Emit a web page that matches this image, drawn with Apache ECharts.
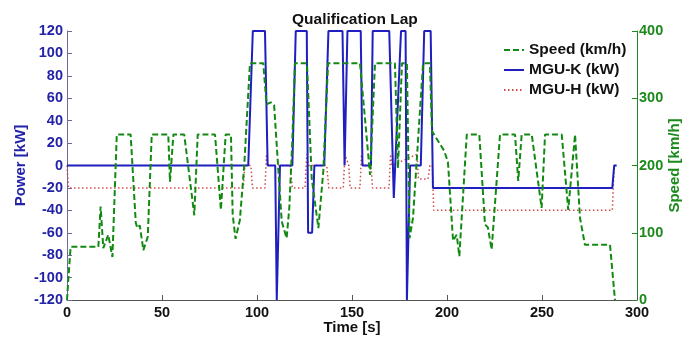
<!DOCTYPE html>
<html>
<head>
<meta charset="utf-8">
<script src="https://cdn.jsdelivr.net/npm/echarts@6/dist/echarts.min.js"></script>
<style>
html,body{margin:0;padding:0;background:#fff;}
#chart{width:693px;height:337px;}
</style>
</head>
<body>
<div id="chart"></div>
<script>
// ---- data ----
const titleText = 'Qualification Lap';
const seriesNames = ['Speed (km/h)', 'MGU-K (kW)', 'MGU-H (kW)'];
const timeTicks = [0, 50, 100, 150, 200, 250, 300];
const powerTicks = [-120, -100, -80, -60, -40, -20, 0, 20, 40, 60, 80, 100, 120];
const speedTicks = [0, 100, 200, 300, 400];

const speedTime = [0, 0.8, 1.9, 16.5, 17.7, 19.1, 21.7, 23.9, 26.2, 33.5, 36.2, 37, 38.3, 40.2, 42.5, 44.6,
  53.3, 54.2, 56, 61.7, 67, 68.8, 77.9, 81, 83.5, 86.3, 87.2, 88.7, 91, 93.3, 96.3, 103.3, 105, 107.2, 109,
  113, 115.6, 117, 118.5, 120, 126.3, 128.8, 132.3, 134.9, 137.4, 154.2, 159.5, 162.1, 172.6, 174.2, 176.3,
  178.9, 180.3, 182.1, 187.4, 191, 192.1, 198.5, 200.5, 203.2, 205.1, 206.5, 210.4, 217, 220, 221.5, 223.5,
  227.9, 235.8, 237.5, 239.3, 244.6, 249.8, 251.6, 260.4, 263.8, 267.4, 270, 272.6, 285.8, 288.4];
const speedKmh = [0, 35, 79, 79, 139, 77, 97, 64, 246, 246, 115, 107, 111, 74, 94, 246,
  246, 176, 246, 246, 126, 246, 246, 134, 246, 246, 127, 91, 119, 201, 352, 352, 291, 294, 290,
  117, 92, 137, 231, 352, 352, 181, 107, 192, 352, 352, 186, 352, 352, 196, 352,
  352, 92, 122, 352, 352, 251, 222, 205, 88, 97, 65, 246, 246, 112, 108, 75,
  246, 246, 177, 246, 246, 137, 246, 246, 134, 246, 122, 82, 82, 0];

const mgukTime = [0, 95.4, 97.8, 104.2, 105.6, 109.6, 110.4, 111.2, 112.1, 118.6, 120.4, 126.2, 126.9, 129, 130.2,
  135.4, 137.6, 145, 146.1, 146.6, 147.6, 154.6, 155.5, 160, 160.9, 169.6, 172, 175.8, 178.2, 178.9, 179.7,
  180.6, 186.2, 188, 191.4, 192.6, 287, 288, 289.3];
const mgukKw = [0, 0, 120, 120, 0, 0, -120, -120, 0, 0, 120, 120, -60, -60, 0,
  0, 120, 120, 0, 0, 120, 120, 0, 0, 120, 120, -29, 120, 120, -120, -120,
  0, 0, 120, 120, -20, -20, 0, 0];

const mguhTime = [0, 0.8, 92.8, 93.6, 96.8, 97.6, 104.2, 105, 105.8, 117.4, 118.6, 125.3, 126.2, 127, 136.7,
  137.8, 145.4, 146.3, 148.3, 149, 154.2, 155, 155.8, 160, 160.8, 169.5, 170.3, 171, 184.2, 185, 190, 191,
  192.3, 193, 287, 288, 289.3];
const mguhKw = [0, -20, -20, 0, 0, -20, -20, 10, 0, 0, -20, -20, 10, 0, 0,
  -20, -20, 10, 0, -20, -20, 10, 0, 0, -20, -20, 10, 0, 10, -12, -12, 0,
  0, -40, -40, 0, 0];

const zip = (a, b) => a.map((v, i) => [v, b[i]]);

const FONT = 'Liberation Sans, Arial, sans-serif';
const BLUE = '#1f1fbf';
const GREEN = '#128a12';
const RED = '#d04a4a';
const LBLUE = '#2323a8';
const LGREEN = '#1c8a1c';
const NOSYM = {color: 'rgba(0,0,0,0)', borderColor: 'rgba(0,0,0,0)', borderWidth: 0, opacity: 0};

const chart = echarts.init(document.getElementById('chart'), null, {renderer: 'canvas'});
chart.setOption({
  backgroundColor: '#ffffff',
  animation: false,
  title: {
    text: titleText, left: 287, top: 7,
    textStyle: {fontFamily: FONT, fontSize: 15.5, fontWeight: 'bold', color: '#111'}
  },
  legend: {
    orient: 'vertical', left: 498, top: 37, itemWidth: 20, itemHeight: 14, itemGap: 4,
    data: seriesNames,
    itemStyle: NOSYM,
    textStyle: {fontFamily: FONT, fontSize: 15.5, fontWeight: 'bold', color: '#111'}
  },
  grid: {left: 67, right: 56, top: 31, bottom: 37, containLabel: false, outerBoundsMode: 'none'},
  xAxis: {
    type: 'value', min: timeTicks[0], max: timeTicks[timeTicks.length - 1], interval: 50,
    name: 'Time [s]', nameLocation: 'middle', nameGap: 20, nameMoveOverlap: false,
    nameTextStyle: {fontFamily: FONT, fontSize: 15, fontWeight: 'bold', color: '#111'},
    axisLine: {show: true, onZero: false, lineStyle: {color: '#555', width: 1}},
    axisTick: {show: true, inside: true, length: 5, lineStyle: {color: '#555'}},
    axisLabel: {margin: 5, fontFamily: FONT, fontSize: 14.5, fontWeight: 'bold', color: '#111'},
    splitLine: {show: false}
  },
  yAxis: [{
    type: 'value', min: powerTicks[0], max: powerTicks[powerTicks.length - 1], interval: 20,
    position: 'left',
    name: 'Power [kW]', nameLocation: 'middle', nameGap: 39, nameRotate: 90, nameMoveOverlap: false,
    nameTextStyle: {fontFamily: FONT, fontSize: 15, fontWeight: 'bold', color: LBLUE},
    axisLine: {show: true, onZero: false, lineStyle: {color: '#6a6aa0', width: 1}},
    axisTick: {show: true, inside: true, length: 5, lineStyle: {color: '#6a6aa0'}},
    axisLabel: {margin: 4, fontFamily: FONT, fontSize: 14.5, fontWeight: 'bold', color: LBLUE},
    splitLine: {show: false}
  }, {
    type: 'value', min: speedTicks[0], max: speedTicks[speedTicks.length - 1], interval: 100,
    position: 'right',
    name: 'Speed [km/h]', nameLocation: 'middle', nameGap: 30, nameRotate: 90, nameMoveOverlap: false,
    nameTextStyle: {fontFamily: FONT, fontSize: 15, fontWeight: 'bold', color: LGREEN},
    axisLine: {show: true, onZero: false, lineStyle: {color: LGREEN, width: 1}},
    axisTick: {show: true, inside: true, length: 5, lineStyle: {color: LGREEN}},
    axisLabel: {margin: 2, fontFamily: FONT, fontSize: 14.5, fontWeight: 'bold', color: LGREEN},
    splitLine: {show: false}
  }],
  series: [{
    name: seriesNames[2], type: 'line', yAxisIndex: 0, symbol: 'none', clip: true, z: 2,
    data: zip(mguhTime, mguhKw),
    lineStyle: {color: RED, width: 1.5, type: [1.5, 2.5]}, itemStyle: {color: RED}
  }, {
    name: seriesNames[1], type: 'line', yAxisIndex: 0, symbol: 'none', clip: true, z: 3,
    data: zip(mgukTime, mgukKw),
    lineStyle: {color: BLUE, width: 2}, itemStyle: {color: BLUE}
  }, {
    name: seriesNames[0], type: 'line', yAxisIndex: 1, symbol: 'none', clip: true, z: 4,
    data: zip(speedTime, speedKmh),
    lineStyle: {color: GREEN, width: 2, type: [6, 3]}, itemStyle: {color: GREEN}
  }]
});
</script>
</body>
</html>
